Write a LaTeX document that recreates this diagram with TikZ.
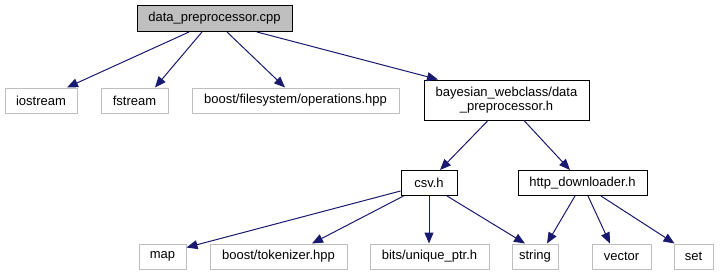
\documentclass[tikz,border=0pt]{standalone}
\usepackage{fontspec}
\setmainfont{Liberation Sans}
\usetikzlibrary{arrows.meta,calc}
\definecolor{edgeblue}{HTML}{191970}
\definecolor{lightframe}{HTML}{BFBFBF}
\begin{document}
\begin{tikzpicture}[x=1pt,y=-1pt,
  every node/.style={font=\fontsize{13}{14}\selectfont, inner sep=0pt, align=center},
  sysfile/.style={draw=lightframe, line width=1pt, minimum height=25pt},
  localfile/.style={draw=black, line width=1pt, minimum height=25pt},
  rootfile/.style={draw=black, fill=lightframe, line width=1pt, minimum height=26pt},
  edge/.style={draw=edgeblue, line width=1pt, -{Triangle[length=11pt,width=9pt]}}]
\useasboundingbox (0,0) rectangle (720,276);

% top: the source file
\node[rootfile, minimum width=155pt] (root) at (214.5,18.5) {data\_preprocessor.cpp};

% direct includes
\node[sysfile, minimum width=72pt]  (iostream) at (41,100.5)   {iostream};
\node[sysfile, minimum width=67pt]  (fstream)  at (134.5,100.5) {fstream};
\node[sysfile, minimum width=207pt] (bfs)      at (295.5,100.5) {boost/filesystem/operations.hpp};
\node[localfile, minimum width=165pt, minimum height=40pt] (bayes) at (506.5,100)
  {bayesian\_webclass/data\\\_preprocessor.h};

% second level
\node[localfile, minimum width=56pt]  (csv)  at (429,183)   {csv.h};
\node[localfile, minimum width=129pt] (http) at (582.5,183) {http\_downloader.h};

% third level
\node[sysfile, minimum width=47pt]  (map)    at (162.5,256.5) {map};
\node[sysfile, minimum width=137pt] (tok)    at (278.5,256.5) {boost/tokenizer.hpp};
\node[sysfile, minimum width=119pt] (uptr)   at (429.5,256.5) {bits/unique\_ptr.h};
\node[sysfile, minimum width=46pt]  (string) at (535,256.5)   {string};
\node[sysfile, minimum width=59pt]  (vector) at (621.5,256.5) {vector};
\node[sysfile, minimum width=39pt]  (set)    at (693.5,256.5) {set};

% include edges
\draw[edge] ($(root.south)+(-25.5,0)$) -- ($(iostream.north)+(26,0)$);
\draw[edge] ($(root.south)+(-12.5,0)$) -- ($(fstream.north)+(20.5,0)$);
\draw[edge] ($(root.south)+(12.5,0)$)  -- ($(bfs.north)+(-10.5,0)$);
\draw[edge] ($(root.south)+(42.5,0)$)  -- ($(bayes.north)+(-68.5,0)$);

\draw[edge] ($(bayes.south)+(-18.5,0)$) -- ($(csv.north)+(11,0)$);
\draw[edge] ($(bayes.south)+(17.5,0)$)  -- ($(http.north)+(-12.5,0)$);

\draw[edge] ($(csv.west)+(0,8)$) -- ($(map.north east)+(0,4)$);
\draw[edge] ($(csv.south west)+(3,0)$) -- ($(tok.north)+(33.5,0)$);
\draw[edge] (csv.south) -- (csv.south |- uptr.north);
\draw[edge] ($(csv.south)+(18,0)$) -- ($(string.north)+(-10,0)$);

\draw[edge] ($(http.south)+(-7.5,0)$) -- ($(string.north)+(12,0)$);
\draw[edge] ($(http.south)+(5.5,0)$)  -- ($(vector.north)+(-11.5,0)$);
\draw[edge] ($(http.south)+(18.5,0)$) -- ($(set.north west)+(1,0)$);
\end{tikzpicture}
\end{document}
